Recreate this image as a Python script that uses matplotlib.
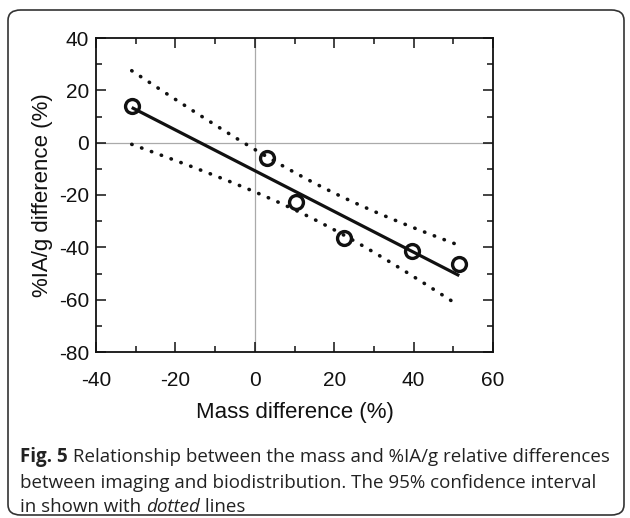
import matplotlib
matplotlib.use("Agg")
import matplotlib.pyplot as plt
from matplotlib.patches import FancyBboxPatch
from matplotlib.ticker import MultipleLocator
import numpy as np

plt.rcParams["axes.unicode_minus"] = False

# data
mass_diff = np.array([-31.0, 3.0, 10.5, 22.5, 39.5, 51.5])
ia_diff = np.array([14.0, -6.0, -22.5, -36.5, -41.5, -46.5])
T_95 = 2.776  # t(0.975, n-2) for n = 6

x_ticks = [-40, -20, 0, 20, 40, 60]
y_ticks = [-80, -60, -40, -20, 0, 20, 40]

caption_bold = "Fig. 5"
caption_lines = [
    " Relationship between the mass and %IA/g relative differences",
    "between imaging and biodistribution. The 95% confidence interval",
    "in shown with ",
]

W, H = 630, 518
fig = plt.figure(figsize=(W / 100, H / 100), dpi=100)

# outer rounded frame
frame = FancyBboxPatch((8 / W, 3 / H), 616 / W, 505 / H,
                       boxstyle="round,pad=0,rounding_size=0.02",
                       transform=fig.transFigure, fill=False,
                       edgecolor="#333333", linewidth=1.2)
fig.patches.append(frame)

ax = fig.add_axes([96 / W, 1 - 352 / H, 397 / W, 314 / H])

# linear fit with 95% confidence band of the mean
n = len(mass_diff)
slope, intercept = np.polyfit(mass_diff, ia_diff, 1)
resid = ia_diff - (slope * mass_diff + intercept)
s = np.sqrt(np.sum(resid ** 2) / (n - 2))
sxx = np.sum((mass_diff - mass_diff.mean()) ** 2)
xs = np.linspace(mass_diff.min(), mass_diff.max(), 200)
fit = slope * xs + intercept
half = T_95 * s * np.sqrt(1.0 / n + (xs - mass_diff.mean()) ** 2 / sxx)

ax.axvline(0, color="#aaaaaa", linewidth=0.9, zorder=0)
ax.axhline(0, color="#aaaaaa", linewidth=0.9, zorder=0)

ax.plot(xs, fit, color="#111111", linewidth=2.3, solid_capstyle="butt")
for band in (fit + half, fit - half):
    ax.plot(xs, band, color="#111111", linewidth=2.6,
            linestyle=(0, (0.1, 2.8)), dash_capstyle="round")
ax.plot(mass_diff, ia_diff, "o", markersize=10, markerfacecolor="none",
        markeredgecolor="#111111", markeredgewidth=2.4)

ax.set_xlim(-40, 60)
ax.set_ylim(-80, 40)
ax.set_xticks(x_ticks)
ax.set_yticks(y_ticks)
ax.xaxis.set_minor_locator(MultipleLocator(10))
ax.yaxis.set_minor_locator(MultipleLocator(10))
ax.tick_params(which="both", direction="in", top=True, right=True,
               width=1.1, color="#111111")
ax.tick_params(which="major", length=7)
ax.tick_params(which="minor", length=4)
for sp in ax.spines.values():
    sp.set_linewidth(1.3)
    sp.set_color("#111111")
for lab in ax.get_xticklabels() + ax.get_yticklabels():
    lab.set_fontfamily("Liberation Sans")
    lab.set_fontsize(15)
    lab.set_color("#111111")
ax.tick_params(axis="x", pad=14)
ax.tick_params(axis="y", pad=5)

ax.set_xlabel("Mass difference (%)", fontfamily="Liberation Sans",
              fontsize=16, color="#111111", labelpad=8)
ax.set_ylabel("%IA/g difference (%)", fontfamily="Liberation Sans",
              fontsize=16, color="#111111", labelpad=4)

# caption
cap_kw = dict(fontfamily="Open Sans", fontsize=13.5, color="#222222",
              va="baseline", ha="left")
base = [462, 487.5, 512.5]
t0 = fig.text(20 / W, 1 - base[0] / H, caption_bold, fontweight="bold", **cap_kw)
fig.canvas.draw()
r = fig.canvas.get_renderer()
bb = t0.get_window_extent(r)
fig.text(bb.x1 / W, 1 - base[0] / H, caption_lines[0], **cap_kw)
fig.text(20 / W, 1 - base[1] / H, caption_lines[1], **cap_kw)
t3 = fig.text(20 / W, 1 - base[2] / H, caption_lines[2], **cap_kw)
bb3 = t3.get_window_extent(r)
t4 = fig.text(bb3.x1 / W, 1 - base[2] / H, "dotted", fontstyle="italic", **cap_kw)
bb4 = t4.get_window_extent(r)
fig.text(bb4.x1 / W, 1 - base[2] / H, " lines", **cap_kw)

fig.savefig("out.png", dpi=100)
